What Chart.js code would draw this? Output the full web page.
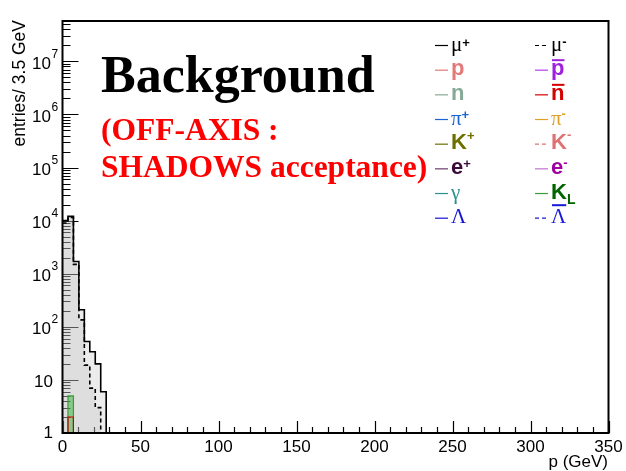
<!DOCTYPE html>
<html>
<head>
<meta charset="utf-8">
<script src="https://cdn.jsdelivr.net/npm/chart.js@4"></script>
<style>
  html, body { margin: 0; padding: 0; background: #fff; }
</style>
</head>
<body>
<canvas id="graf" width="626" height="471"></canvas>
<script>
let ctx = document.getElementById('graf').getContext('2d')

// binning and axis ranges
const binWidth = 3.5
const nBins = 100
const pMax = 350
const yMin = 1
const yMax = 5.75e7

const xMajor = [0, 50, 100, 150, 200, 250, 300, 350]
const xMinorStep = 10
const yDecades = [0, 1, 2, 3, 4, 5, 6, 7]

// entries per 3.5 GeV bin, starting at p = 0 (missing bins are empty)
const muPlus  = [10000, 12000, 1700, 210, 53, 34, 20, 6]
const muMinus = [9000, 11500, 1500, 135, 19, 7, 3]
const kLong   = [0, 5]
const nBar    = [0, 2]

// legend order: left column then right column
const particles = ['mu+', 'p', 'n', 'pi+', 'K+', 'e+', 'gamma', 'Lambda',
                   'mu-', 'pbar', 'nbar', 'pi-', 'K-', 'e-', 'KL', 'Lambdabar']
const counts = { 'mu+': muPlus, 'mu-': muMinus, 'KL': kLong, 'nbar': nBar }

// colours
const look = {
  'mu+':       { line: '#000000', text: '#000000' },
  'p':         { line: '#e37a7a', text: '#e37a7a' },
  'n':         { line: '#86aa96', text: '#86aa96' },
  'pi+':       { line: '#1c64d4', text: '#1c64d4' },
  'K+':        { line: '#6f6f00', text: '#6f6f00' },
  'e+':        { line: '#6a3a6a', text: '#3a0a3a' },
  'gamma':     { line: '#2a9090', text: '#2a9090' },
  'Lambda':    { line: '#1414d4', text: '#1414d4' },
  'mu-':       { line: '#000000', text: '#000000', dash: [4, 3] },
  'pbar':      { line: '#b040e8', text: '#a020e0' },
  'nbar':      { line: '#d40000', text: '#d40000' },
  'pi-':       { line: '#e0a028', text: '#e0a028' },
  'K-':        { line: '#e07272', text: '#e07272', dash: [4, 3] },
  'e-':        { line: '#c070d0', text: '#a000a0' },
  'KL':        { line: '#3a9a3a', text: '#006400' },
  'Lambdabar': { line: '#1a1ad6', text: '#1a1ad6', dash: [4, 3] }
}
const fills = {
  'mu+': 'rgba(185,185,185,0.27)',
  'mu-': 'rgba(185,185,185,0.27)',
  'KL':  'rgba(40,170,40,0.45)'
}

const SANS = '"Liberation Sans", Arial, sans-serif'
const SERIF = '"Liberation Serif", "Times New Roman", serif'
const F = {
  greek: '21px ' + SERIF,
  bold: 'bold 22px ' + SANS,
  sup: 'bold 13px ' + SANS,
  sub: 'bold 14px ' + SANS
}
// [text, font, vertical shift, overline offset]
const labels = {
  'mu+':       [['μ', 'greek'], ['+', 'sup', -4]],
  'p':         [['p', 'bold']],
  'n':         [['n', 'bold']],
  'pi+':       [['π', 'greek'], ['+', 'sup', -6]],
  'K+':        [['K', 'bold'], ['+', 'sup', -9]],
  'e+':        [['e', 'bold'], ['+', 'sup', -6]],
  'gamma':     [['γ', 'greek']],
  'Lambda':    [['Λ', 'greek']],
  'mu-':       [['μ', 'greek'], ['-', 'sup', -5]],
  'pbar':      [['p', 'bold', 0, 14]],
  'nbar':      [['n', 'bold', 0, 14]],
  'pi-':       [['π', 'greek'], ['-', 'sup', -7]],
  'K-':        [['K', 'bold'], ['-', 'sup', -10]],
  'e-':        [['e', 'bold'], ['-', 'sup', -7]],
  'KL':        [['K', 'bold'], ['L', 'sub', 5]],
  'Lambdabar': [['Λ', 'greek', 0, 17]]
}

// step outline: one point per bin low edge, closed at the last edge
function histPoints(vals) {
  const pts = []
  for (let i = 0; i < nBins; i++) {
    pts.push({ x: i * binWidth, y: Math.max(vals[i] || 0, yMin) })
  }
  pts.push({ x: nBins * binWidth, y: yMin })
  return pts
}

// first entries are drawn on top
const onTop = ['K-', 'Lambda', 'nbar', 'KL', 'mu+', 'mu-']
const drawList = onTop.concat(particles.filter(k => !onTop.includes(k)))

const datasets = drawList.map(k => ({
  label: k,
  data: histPoints(counts[k] || []),
  stepped: true,
  borderColor: look[k].line,
  borderWidth: (k === 'mu+' || k === 'mu-') ? 1.6 : 1.2,
  borderDash: look[k].dash || [],
  pointRadius: 0,
  fill: fills[k] ? 'start' : false,
  backgroundColor: fills[k] || 'transparent'
}))

function drawRich(c, parts, x, y, color) {
  let cx = x
  c.fillStyle = color
  for (const [t, kind, dy, bar] of parts) {
    c.font = F[kind]
    c.fillText(t, cx, y + (dy || 0))
    const w = c.measureText(t).width
    if (bar) c.fillRect(cx + 1, y - bar - 2, w - 1, 2)
    cx += w
  }
}

const frame = {
  id: 'frame',
  // ticks go first so the histogram fill lies over them
  beforeDraw(chart) {
    const c = chart.ctx
    const a = chart.chartArea
    const x = chart.scales.x, y = chart.scales.y
    c.save()
    c.strokeStyle = '#000'
    c.lineWidth = 1.2
    c.beginPath()
    for (let v = 0; v <= pMax; v += xMinorStep) {
      const px = Math.round(x.getPixelForValue(v)) + 0.5
      const len = v % 50 === 0 ? 12 : 6
      c.moveTo(px, a.bottom)
      c.lineTo(px, a.bottom - len)
    }
    for (const d of yDecades) {
      for (let m = 1; m <= 9; m++) {
        const v = m * Math.pow(10, d)
        if (v > yMax) break
        const py = Math.round(y.getPixelForValue(v)) + 0.5
        c.moveTo(a.left, py)
        c.lineTo(a.left + (m === 1 ? 16 : 8), py)
      }
    }
    c.stroke()
    c.restore()
  },
  afterDraw(chart) {
    const c = chart.ctx
    const a = chart.chartArea
    const x = chart.scales.x, y = chart.scales.y
    c.save()

    // frame
    c.strokeStyle = '#000'
    c.lineWidth = 2
    c.strokeRect(a.left, a.top, a.right - a.left, a.bottom - a.top)

    // x tick labels
    c.fillStyle = '#000'
    c.font = '17px ' + SANS
    c.textAlign = 'center'
    c.textBaseline = 'alphabetic'
    for (const v of xMajor) c.fillText(String(v), x.getPixelForValue(v), 452)

    // y tick labels, 10^n written with a raised exponent
    for (const d of yDecades) {
      const py = y.getPixelForValue(Math.pow(10, d))
      c.textBaseline = 'middle'
      c.font = '17px ' + SANS
      c.textAlign = 'right'
      if (d === 0) {
        c.fillText('1', 53, py)
      } else if (d === 1) {
        c.fillText('10', 53, py + 2)
      } else {
        c.fillText('10', 51, py + 3)
        c.font = '12px ' + SANS
        c.textAlign = 'left'
        c.fillText(String(d), 51.5, py - 7)
      }
    }

    // axis titles
    c.font = '17px ' + SANS
    c.textAlign = 'right'
    c.textBaseline = 'alphabetic'
    c.fillText('p (GeV)', 608, 467)
    c.save()
    c.translate(20, 20)
    c.rotate(-Math.PI / 2)
    c.textBaseline = 'middle'
    c.font = '17.5px ' + SANS
    c.fillText('entries/ 3.5 GeV', 0, 0)
    c.restore()

    // caption
    c.textAlign = 'left'
    c.textBaseline = 'alphabetic'
    c.font = 'bold 52px ' + SERIF
    c.fillStyle = '#000'
    c.fillText('Background', 101, 92)
    c.font = 'bold 31.5px ' + SERIF
    c.fillStyle = '#ff0000'
    c.fillText('(OFF-AXIS :', 101, 140)
    c.fillText('SHADOWS acceptance)', 101, 177)

    // legend, two columns of eight
    particles.forEach((k, i) => {
      const col = Math.floor(i / 8)
      const rowY = 45 + (i % 8) * 24.67
      const lx = col === 0 ? 435 : 535
      c.strokeStyle = look[k].line
      c.lineWidth = 1.2
      c.setLineDash(look[k].dash || [])
      c.beginPath()
      c.moveTo(lx, rowY + 0.5)
      c.lineTo(lx + 13, rowY + 0.5)
      c.stroke()
      c.setLineDash([])
      drawRich(c, labels[k], lx + 16, rowY + 5.5, look[k].text)
    })

    c.restore()
  }
}

const config = {
  type: 'line',
  data: { datasets: datasets },
  options: {
    responsive: false,
    animation: false,
    devicePixelRatio: 1,
    layout: { padding: { left: 62.5, right: 17.5, top: 21, bottom: 38 } },
    plugins: {
      legend: { display: false },
      tooltip: { enabled: false },
      filler: { drawTime: 'beforeDatasetsDraw' }
    },
    scales: {
      x: { type: 'linear', min: 0, max: pMax, display: false },
      y: { type: 'logarithmic', min: yMin, max: yMax, display: false }
    }
  },
  plugins: [frame]
}

const grafico = new Chart(ctx, config)
</script>
</body>
</html>
